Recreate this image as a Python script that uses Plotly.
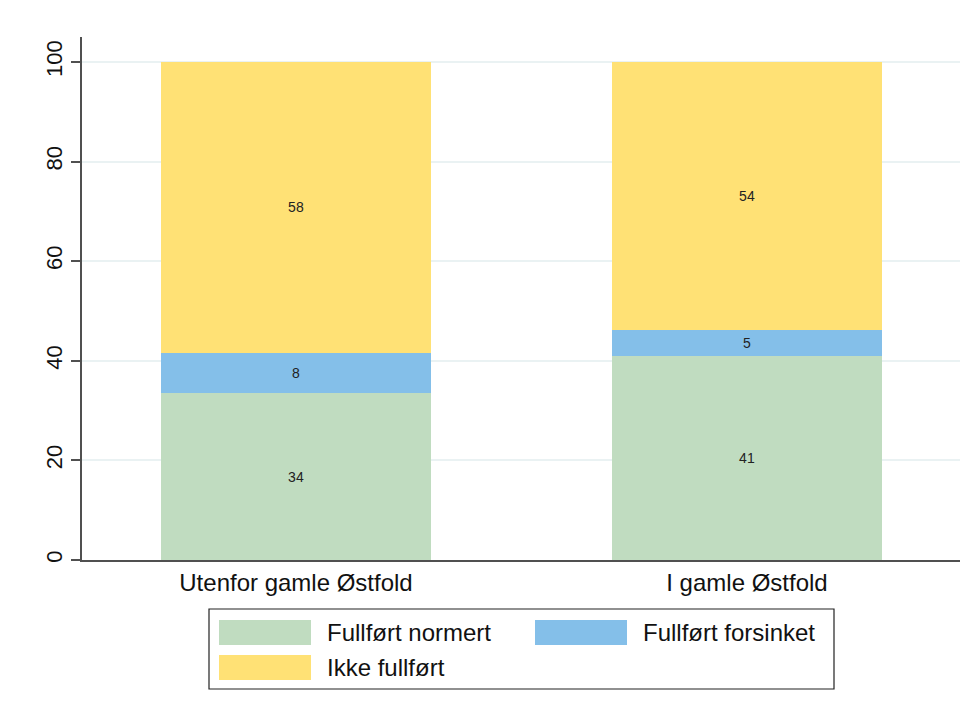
import plotly.graph_objects as go

categories = ["Utenfor gamle Østfold", "I gamle Østfold"]
series_names = ["Fullført normert", "Fullført forsinket", "Ikke fullført"]
normert = [33.5, 41.0]
forsinket = [8.1, 5.2]
ikke = [58.4, 53.8]
y_ticks = [0, 20, 40, 60, 80, 100]

colors = ["#C0DCC0", "#84BFE9", "#FFE175"]
values = [normert, forsinket, ikke]

FONT = "Liberation Sans, Arial, sans-serif"

fig = go.Figure()
for name, vals, col in zip(series_names, values, colors):
    fig.add_trace(go.Bar(
        x=categories, y=vals, name=name,
        marker=dict(color=col, line=dict(width=0)),
        width=0.6,
        texttemplate="%{y:.0f}", textposition="inside", insidetextanchor="middle",
        textangle=0, textfont=dict(size=14, color="#222222", family=FONT),
        showlegend=False, hoverinfo="skip",
    ))

# page offset (body margin)
OFF = 8
FW, FH = 973 - OFF, 713 - OFF
# plot area in page pixels
L, R, T, B = 82, 960, 37, 560
W, H = R - L, B - T

def px(x):
    return (x - L) / W

def py(y):
    return (B - y) / H

shapes = []
annotations = []
# legend box
shapes.append(dict(type="rect", xref="paper", yref="paper",
                   x0=px(209), x1=px(834), y0=py(689), y1=py(609),
                   line=dict(color="#222222", width=1.2), fillcolor="white"))
legend_pos = [(219, 620, 325), (535, 620, 641), (219, 655, 325)]
for name, col, (sx, sy, tx) in zip(series_names, colors, legend_pos):
    shapes.append(dict(type="rect", xref="paper", yref="paper",
                       x0=px(sx), x1=px(sx + 92), y0=py(sy + 25), y1=py(sy),
                       line=dict(width=0), fillcolor=col))
    annotations.append(dict(xref="paper", yref="paper", x=px(tx), y=py(sy + 12.5),
                            text=name, showarrow=False, xanchor="left", yanchor="middle",
                            font=dict(size=24, color="#111111", family=FONT)))

fig.update_layout(
    barmode="stack",
    width=FW, height=FH,
    margin=dict(l=L - OFF, r=FW - (R - OFF), t=T - OFF, b=FH - (B - OFF), pad=0),
    paper_bgcolor="white", plot_bgcolor="white",
    font=dict(family=FONT, size=24, color="#111111"),
    shapes=shapes, annotations=annotations,
    xaxis=dict(range=[-0.4745, 1.4723], showgrid=False, showline=True,
               linecolor="#505050", linewidth=2, ticks="",
               tickfont=dict(size=24, color="#111111"), fixedrange=True),
    yaxis=dict(range=[0, 105], tickvals=y_ticks, ticktext=[str(v) for v in y_ticks],
               tickangle=-90, ticks="outside", ticklen=9, tickwidth=2, tickcolor="#505050",
               showline=True, linecolor="#505050", linewidth=2,
               showgrid=True, gridcolor="#EAF2F3", gridwidth=2, zeroline=False,
               tickfont=dict(size=22, color="#111111")),
)

fig.write_html("out.html")
